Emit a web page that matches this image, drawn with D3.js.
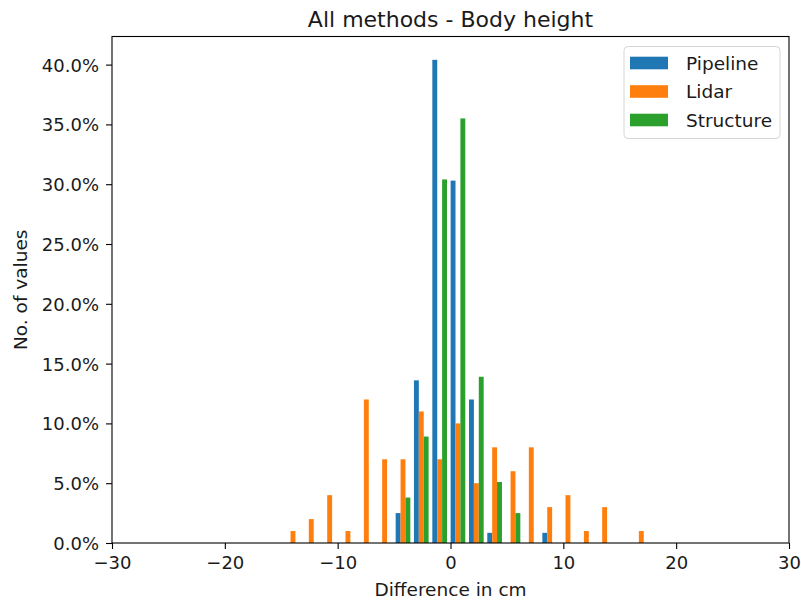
<!DOCTYPE html>
<html>
<head>
<meta charset="utf-8">
<script src="https://cdn.jsdelivr.net/npm/d3@7"></script>
<style>
  body { margin: 0; background: #fff; }
  svg { display: block; font-family: "DejaVu Sans", sans-serif; }
</style>
</head>
<body>
<script>
// histogram bin centres (cm), 20 bins of width 1.625
const binCenters = [-13.96, -12.34, -10.71, -9.09, -7.46, -5.84, -4.21, -2.59, -0.96, 0.66,
                    2.29, 3.91, 5.54, 7.16, 8.79, 10.41, 12.04, 13.66, 15.29, 16.91];
const binWidth = 1.625;

const seriesNames = ["Pipeline", "Lidar", "Structure"];
const colors = ["#1f77b4", "#ff7f0e", "#2ca02c"];

// percentage of values per bin
const pipeline  = [0, 0, 0, 0, 0, 0, 2.5, 13.6, 40.4, 30.3, 12.0, 0.85, 0, 0, 0.85, 0, 0, 0, 0, 0];
const lidar     = [1, 2, 4, 1, 12, 7, 7, 11, 7, 10, 5, 8, 6, 8, 3, 4, 1, 3, 0, 1];
const structure = [0, 0, 0, 0, 0, 0, 3.8, 8.9, 30.4, 35.5, 13.9, 5.1, 2.5, 0, 0, 0, 0, 0, 0, 0];

const xTicks = [-30, -20, -10, 0, 10, 20, 30];
const yTicks = [0, 5, 10, 15, 20, 25, 30, 35, 40];

const W = 801, H = 603;
const margin = {left: 112, right: 12, top: 36.5, bottom: 60};

const svg = d3.select("body").append("svg")
    .attr("width", W)
    .attr("height", H);

const x = d3.scaleLinear().domain([-30, 30]).range([margin.left, W - margin.right]);
const y = d3.scaleLinear().domain([0, 42.35]).range([H - margin.bottom, margin.top]);

const all = [pipeline, lidar, structure];
const subW = 0.8 * binWidth / all.length;

all.forEach((vals, s) => {
    svg.append("g")
        .selectAll("rect")
        .data(vals.map((v, i) => ({c: binCenters[i], v})).filter(d => d.v > 0))
        .enter()
        .append("rect")
        .attr("x", d => x(d.c + (s - 1) * subW - subW / 2))
        .attr("width", d => x(d.c + (s - 1) * subW + subW / 2) - x(d.c + (s - 1) * subW - subW / 2))
        .attr("y", d => y(d.v))
        .attr("height", d => y(0) - y(d.v))
        .style("fill", colors[s]);
});

const xAxis = svg.append("g")
    .attr("transform", `translate(0,${y(0)})`)
    .call(d3.axisBottom(x).tickValues(xTicks).tickSize(6).tickPadding(7).tickFormat(d3.format("d")));

const yAxis = svg.append("g")
    .attr("transform", `translate(${x(-30)},0)`)
    .call(d3.axisLeft(y).tickValues(yTicks).tickSize(6).tickPadding(7).tickFormat(d => d3.format(".1f")(d) + "%"));

[xAxis, yAxis].forEach(g => {
    g.select(".domain").remove();
    g.selectAll("line").attr("stroke", "#000").attr("stroke-width", 1.1);
    g.selectAll("text").style("font-size", "18px").style("fill", "#1a1a1a")
        .style("font-family", "DejaVu Sans");
});
yAxis.selectAll("text").attr("dy", "0.36em");

// frame
svg.append("rect")
    .attr("x", x(-30))
    .attr("y", y.range()[1])
    .attr("width", x(30) - x(-30))
    .attr("height", y(0) - y.range()[1])
    .style("fill", "none")
    .style("stroke", "#000")
    .style("stroke-width", 1.1);

// title and axis labels
svg.append("text")
    .attr("x", (x(-30) + x(30)) / 2)
    .attr("y", 26.5)
    .attr("text-anchor", "middle")
    .style("font-size", "22px")
    .style("fill", "#1a1a1a")
    .text("All methods - Body height");

svg.append("text")
    .attr("x", (x(-30) + x(30)) / 2)
    .attr("y", 596)
    .attr("text-anchor", "middle")
    .style("font-size", "18.5px")
    .style("fill", "#1a1a1a")
    .text("Difference in cm");

svg.append("text")
    .attr("transform", `translate(26.5,${(y(0) + y.range()[1]) / 2})rotate(-90)`)
    .attr("text-anchor", "middle")
    .style("font-size", "18.5px")
    .style("fill", "#1a1a1a")
    .text("No. of values");

// legend
const legend = svg.append("g").attr("transform", "translate(624,46.5)");
legend.append("rect")
    .attr("width", 156)
    .attr("height", 92)
    .attr("rx", 4)
    .style("fill", "#fff")
    .style("fill-opacity", 0.8)
    .style("stroke", "#d6d6d6");

const items = legend.selectAll("g.item")
    .data(seriesNames)
    .enter()
    .append("g")
    .attr("class", "item")
    .attr("transform", (d, i) => `translate(0,${16.5 + i * 28.5})`);

items.append("rect")
    .attr("x", 6)
    .attr("y", -6.3)
    .attr("width", 38)
    .attr("height", 12.6)
    .style("fill", (d, i) => colors[i]);

items.append("text")
    .attr("x", 62)
    .attr("dy", "0.36em")
    .style("font-size", "18.5px")
    .style("fill", "#1a1a1a")
    .text(d => d);
</script>
</body>
</html>
